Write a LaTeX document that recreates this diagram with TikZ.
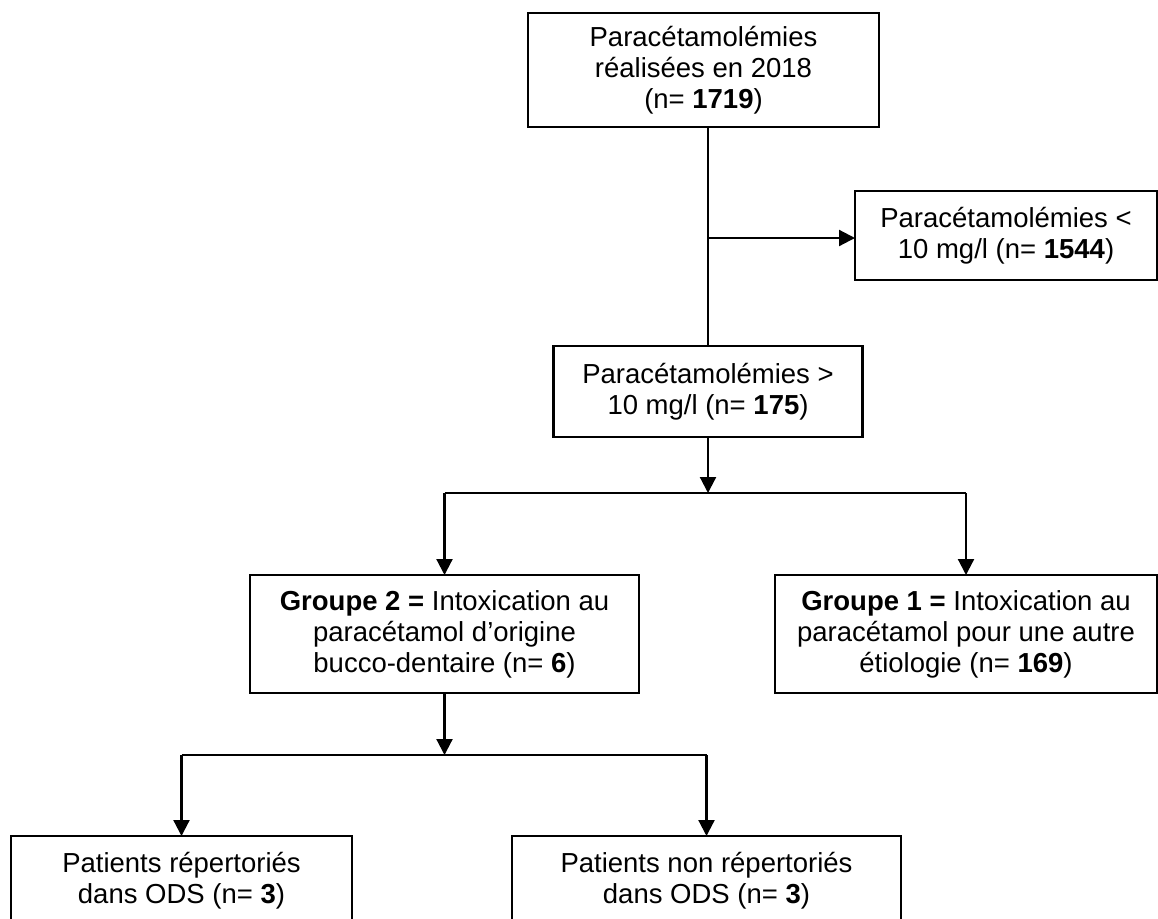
\documentclass[tikz,border=0pt]{standalone}
\usepackage{fontspec}
\setmainfont{Liberation Sans}
\usetikzlibrary{arrows.meta}
\tikzset{
  box/.style={draw=black, line width=2.8pt, fill=white, align=center, inner sep=0pt, outer sep=0pt,
    font=\fontsize{27.5}{31}\selectfont},
  conn/.style={line width=2.2pt, draw=black},
  arr/.style={conn, -{Triangle[length=16pt,width=16pt]}}
}
\begin{document}
\begin{tikzpicture}[x=1pt,y=-1pt]
\useasboundingbox (0,0) rectangle (1158,918);
\clip (0,0) rectangle (1158,918);
\fill[white] (0,0) rectangle (1158,918);
% nodes
\node[box, minimum width=351pt, minimum height=114pt] (top) at (703.5,70)
  {Paracétamolémies\\réalisées en 2018\\(n= \textbf{1719})};
\node[box, minimum width=302pt, minimum height=89pt] (lt) at (1006,235.5)
  {Paracétamolémies <\\10 mg/l (n= \textbf{1544})};
\node[box, minimum width=309pt, minimum height=91pt] (mid) at (708,391.5)
  {Paracétamolémies >\\10 mg/l (n= \textbf{175})};
\node[box, minimum width=389pt, minimum height=118pt] (g2) at (444.5,634)
  {\textbf{Groupe 2 =} Intoxication au\\paracétamol d’origine\\bucco-dentaire (n= \textbf{6})};
\node[box, minimum width=382pt, minimum height=118pt] (g1) at (966,634)
  {\textbf{Groupe 1 =} Intoxication au\\paracétamol pour une autre\\étiologie (n= \textbf{169})};
\node[box, minimum width=341pt, minimum height=90pt] (bl) at (181.5,881)
  {Patients répertoriés\\dans ODS (n= \textbf{3})};
\node[box, minimum width=389pt, minimum height=90pt] (br) at (706.5,881)
  {Patients non répertoriés\\dans ODS (n= \textbf{3})};
% coordinates
\coordinate (tbot) at (708,127);
\coordinate (split1) at (708,238);
\coordinate (j1) at (708,493);
\coordinate (j1l) at (444.5,493);
\coordinate (j1r) at (966,493);
\coordinate (j2) at (444.5,755);
\coordinate (j2l) at (181.5,755);
\coordinate (j2r) at (706.5,755);
% connectors
\draw[conn] (tbot) -- (mid.north -| tbot);
\draw[arr] (split1) -- (lt.west |- split1);
\draw[arr] (mid.south) -- (j1);
\draw[conn] (j1l) -- (j1r);
\draw[arr] (j1l) -- (g2.north);
\draw[arr] (j1r) -- (g1.north);
\draw[arr] (g2.south) -- (j2);
\draw[conn] (j2l) -- (j2r);
\draw[arr] (j2l) -- (bl.north);
\draw[arr] (j2r) -- (br.north);
\end{tikzpicture}
\end{document}
